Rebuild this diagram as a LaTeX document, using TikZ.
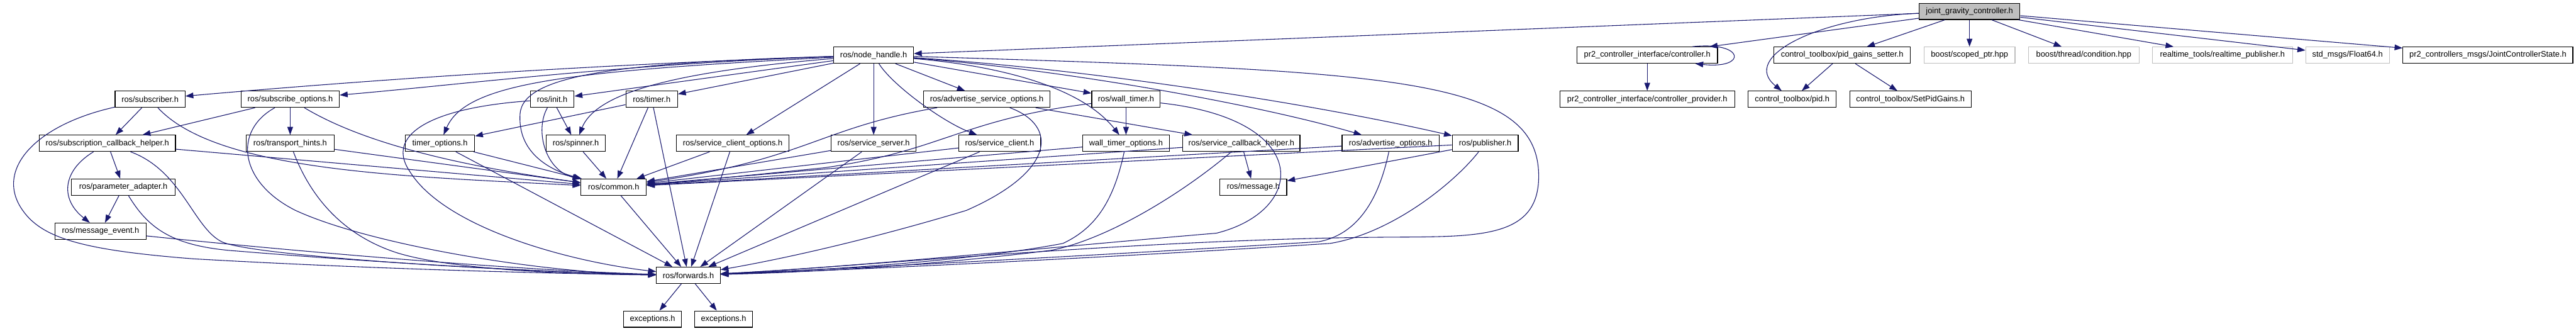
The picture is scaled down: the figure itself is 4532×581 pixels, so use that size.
\documentclass[tikz,border=0pt]{standalone}
\usepackage{fontspec}
\setmainfont{Liberation Sans}
\usetikzlibrary{arrows.meta,calc}
\definecolor{edgec}{HTML}{191970}
\definecolor{greyseventyfive}{HTML}{BFBFBF}
\begin{document}
\begin{tikzpicture}[x=1pt,y=-1pt,
 nbox/.style={draw=black, fill=white, line width=1.3pt, minimum height=28.5pt, inner sep=0pt, font=\fontsize{14.2}{16}\selectfont},
 gbox/.style={nbox, draw=greyseventyfive},
 mainbox/.style={nbox, fill=greyseventyfive},
 dep/.style={draw=edgec, line width=1.2pt, -{Triangle[length=14pt,width=10pt]}},
]
\useasboundingbox[fill=white] (0,0) rectangle (4532,581);
% row 0
\node[mainbox, minimum width=177.5pt] (jgc) at (3465,20) {joint\_gravity\_controller.h};
% row 1
\node[nbox, minimum width=140pt] (nh) at (1537,97) {ros/node\_handle.h};
\node[nbox, minimum width=247.5pt] (ctrl) at (2898,97) {pr2\_controller\_interface/controller.h};
\node[nbox, minimum width=240pt] (pgs) at (3241,97) {control\_toolbox/pid\_gains\_setter.h};
\node[gbox, minimum width=160pt] (scoped) at (3465,97) {boost/scoped\_ptr.hpp};
\node[gbox, minimum width=195pt] (cond) at (3666,97) {boost/thread/condition.hpp};
\node[gbox, minimum width=247pt] (rtp) at (3910,97) {realtime\_tools/realtime\_publisher.h};
\node[gbox, minimum width=147pt] (f64) at (4130,97) {std\_msgs/Float64.h};
\node[nbox, minimum width=299pt] (jcs) at (4377,97) {pr2\_controllers\_msgs/JointControllerState.h};
% row 2
\node[nbox, minimum width=123pt] (sub) at (264,174.5) {ros/subscriber.h};
\node[nbox, minimum width=173pt] (subopt) at (510.5,174.5) {ros/subscribe\_options.h};
\node[nbox, minimum width=77pt] (init) at (971.5,174.5) {ros/init.h};
\node[nbox, minimum width=91pt] (timer) at (1146.5,174.5) {ros/timer.h};
\node[nbox, minimum width=222pt] (aso) at (1736,174.5) {ros/advertise\_service\_options.h};
\node[nbox, minimum width=120.5pt] (wt) at (1981,174.5) {ros/wall\_timer.h};
\node[nbox, minimum width=307.6pt] (prov) at (2898,174.5) {pr2\_controller\_interface/controller\_provider.h};
\node[nbox, minimum width=155pt] (pid) at (3153,174.5) {control\_toolbox/pid.h};
\node[nbox, minimum width=213.5pt] (spg) at (3361,174.5) {control\_toolbox/SetPidGains.h};
% row 3
\node[nbox, minimum width=239.5pt] (scbh) at (189,252) {ros/subscription\_callback\_helper.h};
\node[nbox, minimum width=155pt] (th) at (510.5,252) {ros/transport\_hints.h};
\node[nbox, minimum width=122pt] (tmo) at (774,252) {timer\_options.h};
\node[nbox, minimum width=104pt] (spin) at (1013,252) {ros/spinner.h};
\node[nbox, minimum width=198pt] (sco) at (1289,252) {ros/service\_client\_options.h};
\node[nbox, minimum width=149.5pt] (ss) at (1537,252) {ros/service\_server.h};
\node[nbox, minimum width=144pt] (sc) at (1758.6,252) {ros/service\_client.h};
\node[nbox, minimum width=152pt] (wto) at (1981,252) {wall\_timer\_options.h};
\node[nbox, minimum width=206pt] (svcb) at (2184,252) {ros/service\_callback\_helper.h};
\node[nbox, minimum width=171pt] (ao) at (2446.6,252) {ros/advertise\_options.h};
\node[nbox, minimum width=116pt] (pub) at (2613,252) {ros/publisher.h};
% row 4
\node[nbox, minimum width=183pt] (pa) at (217,329) {ros/parameter\_adapter.h};
\node[nbox, minimum width=115pt] (common) at (1079.6,329) {ros/common.h};
\node[nbox, minimum width=117.5pt] (msg) at (2205,329) {ros/message.h};
% row 5
\node[nbox, minimum width=160pt] (me) at (177,406.5) {ros/message\_event.h};
% row 6
\node[nbox, minimum width=112pt] (fwd) at (1211,484) {ros/forwards.h};
% row 7
\node[nbox, minimum width=102.5pt] (exa) at (1148,561) {exceptions.h};
\node[nbox, minimum width=102.5pt] (exb) at (1273,561) {exceptions.h};

% edges from joint_gravity_controller.h
\draw[dep] (jgc) -- (nh);
\draw[dep] (jgc) -- (ctrl);
\draw[dep] (jgc) .. controls (3200,30) and (3060,100) .. (pid);
\draw[dep] (jgc) -- (pgs);
\draw[dep] (jgc) -- (scoped);
\draw[dep] (jgc) -- (cond);
\draw[dep] (jgc) -- (rtp);
\draw[dep] (jgc) -- (f64);
\draw[dep] (jgc) -- (jcs);
\draw[dep] (pgs) -- (pid);
\draw[dep] (pgs) -- (spg);
\draw[dep] (ctrl) -- (prov);
\draw[dep] ($(ctrl.north east)+(-45,0)$) .. controls (3070,72) and (3075,122) .. ($(ctrl.south east)+(-40,0)$);

% edges from ros/node_handle.h
\draw[dep] (nh) .. controls (1000,115) and (600,145) .. (sub);
\draw[dep] (nh) .. controls (1100,112) and (800,150) .. (subopt);
\draw[dep] (nh) .. controls (1000,125) and (820,145) .. (tmo);
\draw[dep] (nh) -- (init);
\draw[dep] (nh) .. controls (1200,125) and (1050,160) .. (spin);
\draw[dep] (nh) -- (timer);
\draw[dep] (nh) -- (sco);
\draw[dep] (nh) .. controls (1100,110) and (920,130) .. (915,200) .. controls (910,270) and (970,300) .. (common);
\draw[dep] (nh) .. controls (2450,125) and (2707,135) .. (2707,310) .. controls (2707,420) and (2600,416) .. (2444,417) .. controls (2000,420) and (1500,470) .. (fwd);
\draw[dep] (nh) -- (aso);
\draw[dep] (nh) -- (ss);
\draw[dep] (nh) .. controls (1570,150) and (1660,215) .. (sc);
\draw[dep] (nh) -- (wt);
\draw[dep] (nh) .. controls (1750,115) and (1900,150) .. (wto);
\draw[dep] (nh) .. controls (1850,120) and (2200,180) .. (ao);
\draw[dep] (nh) .. controls (1900,120) and (2300,180) .. (pub);

% ros/subscriber.h
\draw[dep] (sub) -- (scbh);
\draw[dep] (sub) .. controls (380,300) and (700,310) .. (common);
\draw[dep] (sub) .. controls (60,220) and (-10,300) .. (40,370) .. controls (75,420) and (150,440) .. (339,455) .. controls (600,470) and (900,480) .. (fwd);

% ros/subscription_callback_helper.h
\draw[dep] (scbh) -- (pa);
\draw[dep] (scbh) .. controls (110,300) and (105,350) .. (me);
\draw[dep] (scbh) .. controls (320,300) and (340,400) .. (390,425) .. controls (440,450) and (900,478) .. (fwd);
\draw[dep] (scbh) -- (common);

% ros/parameter_adapter.h, ros/message_event.h
\draw[dep] (pa) -- (me);
\draw[dep] (pa) .. controls (260,400) and (300,430) .. (400,440) .. controls (700,465) and (1000,480) .. (fwd);
\draw[dep] (me) .. controls (500,440) and (900,475) .. (fwd);

% ros/subscribe_options.h
\draw[dep] (subopt) -- (scbh);
\draw[dep] (subopt) -- (th);
\draw[dep] (subopt) .. controls (410,230) and (420,320) .. (520,370) .. controls (650,430) and (950,480) .. (fwd);
\draw[dep] (subopt) .. controls (620,240) and (760,285) .. (common);

% ros/transport_hints.h
\draw[dep] (th) -- (common);
\draw[dep] (th) .. controls (540,330) and (590,410) .. (700,445) .. controls (800,475) and (1000,482) .. (fwd);

% timer_options.h
\draw[dep] (tmo) -- (common);
\draw[dep] (tmo) -- (fwd);

% ros/init.h
\draw[dep] (init) -- (spin);
\draw[dep] (init) .. controls (940,230) and (960,300) .. (common);
\draw[dep] (init) .. controls (750,190) and (680,240) .. (720,300) .. controls (780,400) and (1000,460) .. (fwd);

% ros/timer.h
\draw[dep] (timer) -- (tmo);
\draw[dep] (timer) -- (common);
\draw[dep] (timer) -- (fwd);

\draw[dep] (spin) -- (common);
\draw[dep] (sco) -- (common);
\draw[dep] (sco) -- (fwd);
\draw[dep] (ss) -- (common);
\draw[dep] (ss) -- (fwd);
\draw[dep] (sc) -- (common);
\draw[dep] (sc) -- (fwd);

% ros/advertise_service_options.h
\draw[dep] (aso) -- (svcb);
\draw[dep] (aso) .. controls (1440,225) and (1420,280) .. (common);
\draw[dep] (aso) .. controls (1860,220) and (1860,300) .. (1700,370) .. controls (1500,430) and (1350,460) .. (fwd);

% ros/wall_timer.h
\draw[dep] (wt) -- (wto);
\draw[dep] (wt) .. controls (1690,210) and (1660,265) .. (1450,295) .. controls (1300,310) and (1200,320) .. (common);
\draw[dep] (wt) .. controls (2310,210) and (2300,370) .. (2140,410) .. controls (1900,430) and (1500,470) .. (fwd);

% wall_timer_options.h
\draw[dep] (wto) -- (common);
\draw[dep] (wto) .. controls (1960,350) and (1930,400) .. (1870,428) .. controls (1700,460) and (1450,475) .. (fwd);

% ros/service_callback_helper.h
\draw[dep] (svcb) -- (msg);
\draw[dep] (svcb) -- (common);
\draw[dep] (svcb) .. controls (2080,340) and (1950,420) .. (1850,440) .. controls (1650,465) and (1450,478) .. (fwd);

% ros/advertise_options.h
\draw[dep] (ao) -- (common);
\draw[dep] (ao) .. controls (2430,330) and (2400,410) .. (2320,425) .. controls (2000,445) and (1500,472) .. (fwd);

% ros/publisher.h
\draw[dep] (pub) -- (msg);
\draw[dep] (pub) -- (common);
\draw[dep] (pub) .. controls (2560,320) and (2450,410) .. (2340,428) .. controls (2000,450) and (1500,475) .. (fwd);

% ros/common.h, ros/forwards.h
\draw[dep] (common) -- (fwd);
\draw[dep] (fwd) -- (exa);
\draw[dep] (fwd) -- (exb);
\end{tikzpicture}
\end{document}
